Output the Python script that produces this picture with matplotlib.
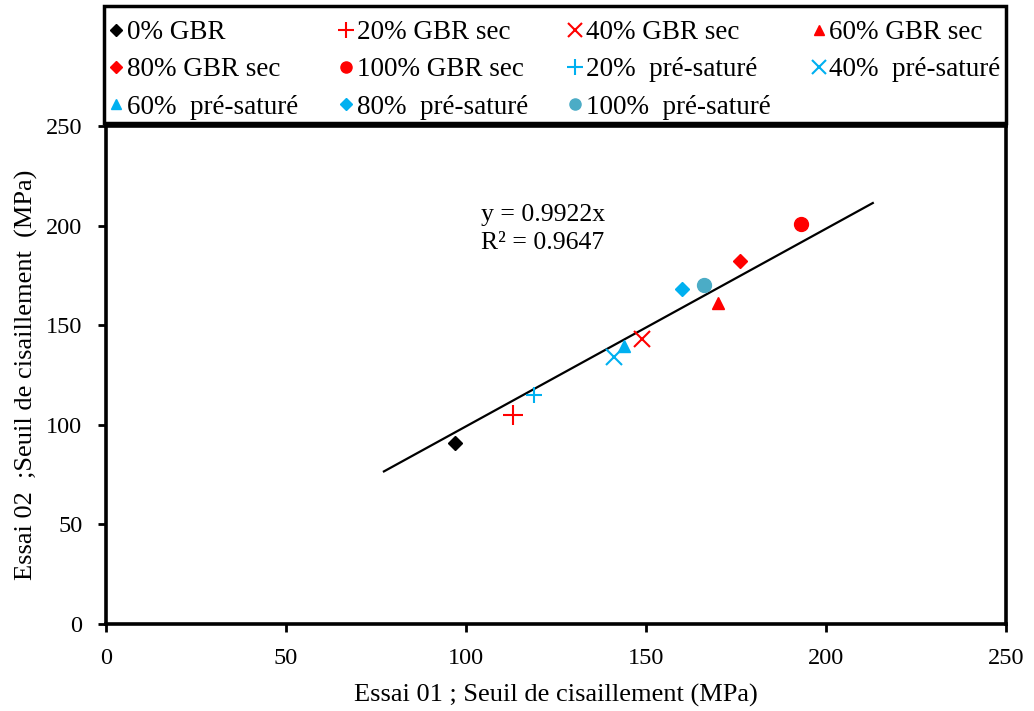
import matplotlib
matplotlib.use("Agg")
import matplotlib.pyplot as plt
from matplotlib.patches import Rectangle
import numpy as np

plt.rcParams['font.family'] = ['Liberation Serif', 'DejaVu Serif']

labels = ["0% GBR", "20% GBR sec", "40% GBR sec", "60% GBR sec",
          "80% GBR sec", "100% GBR sec", "20%  pré-saturé", "40%  pré-saturé",
          "60%  pré-saturé", "80%  pré-saturé", "100%  pré-saturé"]
essai01 = [97, 113, 149, 170, 176, 193, 119, 141, 144, 160, 166]
essai02 = [91, 105, 143, 161, 182, 201, 115, 134, 139.5, 168, 170]
colors = ["black", "#FF0000", "#FF0000", "#FF0000", "#FF0000", "#FF0000",
          "#00B0F0", "#00B0F0", "#00B0F0", "#00B0F0", "#4BACC6"]
markers = ["D", "+", "x", "^", "D", "o", "+", "x", "^", "D", "o"]
msizes = [7, 14, 11, 9, 7, 10, 11, 12, 9, 7, 10]

slope = 0.9922
trend_x = [77.2, 213]
x_ticks = [0, 50, 100, 150, 200, 250]
y_ticks = [0, 50, 100, 150, 200, 250]

fig = plt.figure(figsize=(10.34, 7.11), dpi=100)
ax = fig.add_axes([106/1034, 1-624/711, 900/1034, 498/711])

tx = np.array(trend_x)
ax.plot(tx, slope*tx, color="black", lw=1.6, zorder=1)

for lab, x, y, c, m, s in zip(labels, essai01, essai02, colors, markers, msizes):
    mew = 1.5 if m in ("+", "x") else 1
    ax.plot([x], [y], linestyle="none", marker=m, color=c, markersize=s,
            markeredgewidth=mew, label=lab, zorder=3)

ax.text(104.2, 211, "y = 0.9922x\nR² = 0.9647", fontsize=18.5, linespacing=1.38,
        va="top", ha="left")

ax.set_xlim(0, 250)
ax.set_ylim(0, 250)
ax.set_xticks(x_ticks)
ax.set_yticks(y_ticks)
ax.tick_params(direction="out", length=6, width=2, labelsize=17.5)
ax.tick_params(axis="x", pad=11)
ax.tick_params(axis="y", pad=11)
ax.set_xlabel("Essai 01 ; Seuil de cisaillement (MPa)", fontsize=19, labelpad=11)
ax.set_ylabel("Essai 02  ;Seuil de cisaillement  (MPa)", fontsize=19, labelpad=6)
for side in ["top", "right", "bottom", "left"]:
    ax.spines[side].set_linewidth(2.6)

leg_handles = []
for lab, c, m in zip(labels, colors, markers):
    s = {"D": 6, "+": 11, "x": 10, "^": 7, "o": 8}[m]
    mew = 1.5 if m in ("+", "x") else 1
    h, = plt.plot([], [], linestyle="none", marker=m, color=c, markersize=s,
                  markeredgewidth=mew)
    leg_handles.append(h)

ncol = 4
nrow = 3
order = []
for col in range(ncol):
    for row in range(nrow):
        idx = row*ncol + col
        if idx < len(labels):
            order.append(idx)
leg = fig.legend([leg_handles[i] for i in order], [labels[i] for i in order],
                 ncol=ncol, loc="lower left",
                 bbox_to_anchor=(104/1034, 1-125/711, 902/1034, 118/711),
                 mode="expand", fontsize=19.5, frameon=False,
                 handlelength=0.5, handletextpad=0.15, labelspacing=0.45,
                 borderpad=0.2, borderaxespad=0, columnspacing=0.5)

fig.patches.append(Rectangle((104/1034, 1-123/711), 902/1034, 117/711,
                             transform=fig.transFigure, fill=False,
                             edgecolor="black", linewidth=2.5))

fig.savefig("out.png", dpi=100)
